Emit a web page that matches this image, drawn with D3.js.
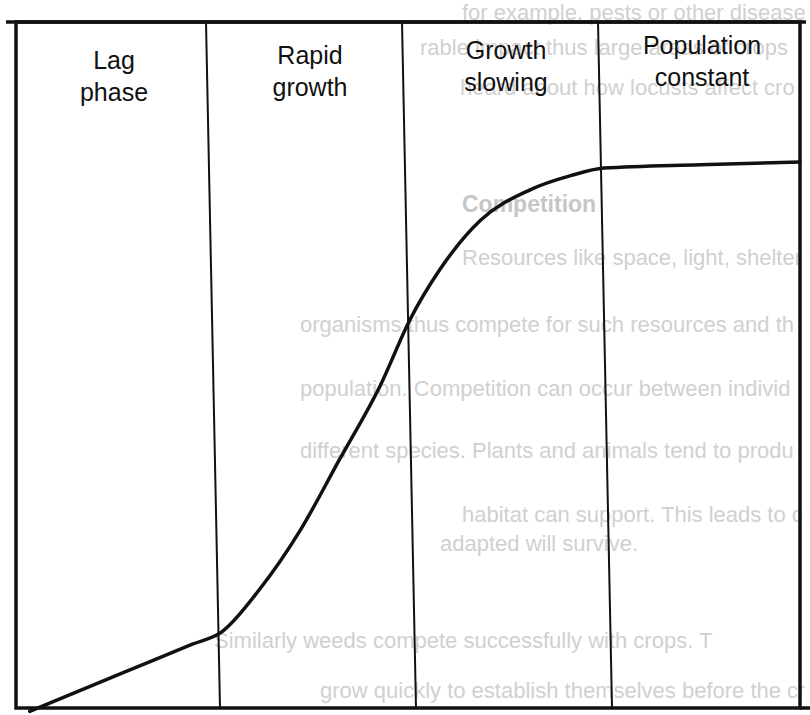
<!DOCTYPE html>
<html>
<head>
<meta charset="utf-8">
<script src="https://cdn.jsdelivr.net/npm/d3@7"></script>
<style>
  html, body { margin: 0; padding: 0; background: #fff; }
  svg { display: block; }
</style>
</head>
<body>
<svg></svg>
<script>
const SVG = d3.select('svg').attr('width', 810).attr('height', 715);

// phases (one column each)
const PHASES = [['Lag', 'phase'], ['Rapid', 'growth'], ['Growth', 'slowing'], ['Population', 'constant']];
const PHASE_EDGES = [0, 1, 2, 3, 4];

// growth curve: time (phase units) / population (% of box height)
const TIME = [0.07, 0.55, 0.9, 1.05, 1.24, 1.45, 1.65, 1.86, 2.01, 2.16, 2.37, 2.62, 2.83, 3.0, 3.49, 4.0];
const POP = [-0.5, 5.2, 9.3, 11.1, 17.2, 25.9, 36.2, 47.1, 56.6, 63.8, 71.1, 75.5, 77.6, 78.7, 79.2, 79.6];

// faint text showing through from the page
const BG_TEXT = [
  ['for example, pests or other diseases', 462, 20],
  ['rable impact thus large areas of crops are easily', 420, 55],
  ['heard about how locusts affect crops', 460, 95],
  ['Resources like space, light, shelter are commonly f', 462, 265],
  ['organisms thus compete for such resources and th', 300, 332],
  ['population. Competition can occur between individ', 300, 396],
  ['different species. Plants and animals tend to produ', 300, 458],
  ['habitat can support. This leads to competition and', 462, 522],
  ['adapted will survive.', 440, 551],
  ['Similarly weeds compete successfully with crops. T', 214, 648],
  ['grow quickly to establish themselves before the cro', 320, 698]
];

const x = d3.scaleLinear().domain([0, 4]).range([16, 800]);
const y = d3.scaleLinear().domain([0, 100]).range([708, 22]);

// background bleed-through, trimmed at the page edge
const bg = SVG.append('g').selectAll('text')
  .data(BG_TEXT)
  .join('text')
  .attr('x', d => d[1])
  .attr('y', d => d[2])
  .attr('font-family', 'Liberation Sans, Arial, sans-serif')
  .attr('font-size', 22)
  .attr('fill', '#d0d0d0')
  .text(d => d[0]);

bg.each(function (d) {
  let s = d[0];
  while (s.length > 1 && d[1] + this.getComputedTextLength() > 806) {
    s = s.slice(0, -1);
    this.textContent = s;
  }
});

SVG.append('text')
  .attr('x', 462).attr('y', 212)
  .attr('font-family', 'Liberation Sans, Arial, sans-serif')
  .attr('font-size', 23).attr('font-weight', 'bold')
  .attr('fill', '#c6c6c6')
  .text('Competition');

// dividers between phases
SVG.append('g').selectAll('line')
  .data(PHASE_EDGES.slice(1, -1))
  .join('line')
  .attr('x1', d => x(d) - 6).attr('x2', d => x(d) + 8)
  .attr('y1', y(100)).attr('y2', y(0))
  .attr('stroke', '#111').attr('stroke-width', 2);

// box
SVG.append('rect')
  .attr('x', x(0)).attr('y', y(100))
  .attr('width', x(4) - x(0)).attr('height', y(0) - y(100))
  .attr('fill', 'none').attr('stroke', '#111').attr('stroke-width', 3.5);

// axis lines run off the box
SVG.append('line')
  .attr('x1', x(4)).attr('x2', 810)
  .attr('y1', y(0)).attr('y2', y(0))
  .attr('stroke', '#111').attr('stroke-width', 3.5);
SVG.append('line')
  .attr('x1', 6).attr('x2', 806)
  .attr('y1', y(100)).attr('y2', y(100))
  .attr('stroke', '#111').attr('stroke-width', 3.5);

// growth curve
const line = d3.line()
  .x((d, i) => x(TIME[i]))
  .y(d => y(d))
  .curve(d3.curveMonotoneX);

SVG.append('path')
  .datum(POP)
  .attr('d', line)
  .attr('fill', 'none')
  .attr('stroke', '#111')
  .attr('stroke-width', 3.5)
  .attr('stroke-linecap', 'round');

// phase labels
const labels = SVG.append('g').selectAll('text')
  .data(PHASES)
  .join('text')
  .attr('text-anchor', 'middle')
  .attr('font-family', 'Liberation Sans, Arial, sans-serif')
  .attr('font-size', 25)
  .attr('fill', '#111')
  .attr('transform', (d, i) => `translate(${x(i + 0.5)},${69 - i * 5})`);

labels.selectAll('tspan')
  .data(d => d)
  .join('tspan')
  .attr('x', 0)
  .attr('dy', (d, i) => i === 0 ? 0 : 32)
  .text(d => d);
</script>
</body>
</html>
